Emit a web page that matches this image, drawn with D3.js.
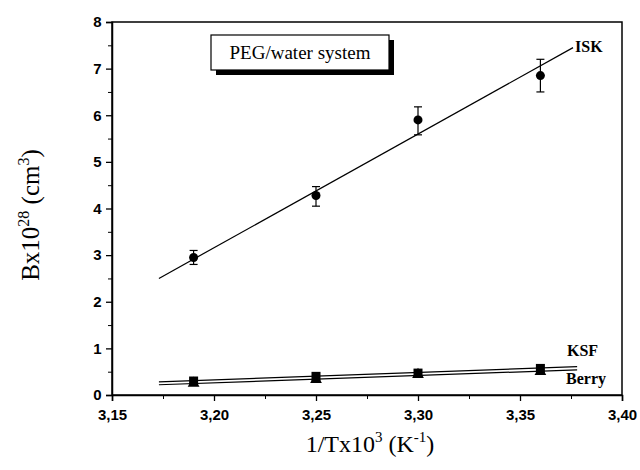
<!DOCTYPE html>
<html><head><meta charset="utf-8">
<script src="https://cdn.jsdelivr.net/npm/d3@7"></script>
<style>body{margin:0;background:#fff}</style>
</head><body>
<svg id="c" width="640" height="470"></svg>
<script>
const xs = [3.19, 3.25, 3.30, 3.36];
const iskY = [2.95, 4.28, 5.90, 6.85];
const iskErrLo = [2.80, 4.05, 5.58, 6.50];
const iskErrHi = [3.10, 4.47, 6.18, 7.20];
const ksfY = [0.30, 0.40, 0.47, 0.57];
const berryY = [0.25, 0.33, 0.44, 0.50];
const iskFitX = [3.173, 3.376];
const iskFitY = [2.50, 7.45];
const ksfFitX = [3.173, 3.378];
const ksfFitY = [0.28, 0.61];
const berryFitX = [3.173, 3.378];
const berryFitY = [0.22, 0.54];
const xTicks = ["3,15","3,20","3,25","3,30","3,35","3,40"];
const yTicks = [0,1,2,3,4,5,6,7,8];

const svg = d3.select("#c");
const L=112, R=622, T=22, B=395;
const x = d3.scaleLinear().domain([3.15,3.40]).range([L,R]);
const y = d3.scaleLinear().domain([0,8]).range([B,T]);
const serif = "'Liberation Serif', 'Times New Roman', serif";
const sans = "'Liberation Sans', Arial, sans-serif";

// frame
svg.append("rect").attr("x",L).attr("y",T).attr("width",R-L).attr("height",B-T)
  .attr("fill","none").attr("stroke","#000").attr("stroke-width",1.5);

// x axis
const xa = svg.append("g").attr("transform",`translate(0,${B})`)
  .call(d3.axisBottom(x).tickValues(d3.range(6).map(i=>3.15+i*0.05)).tickSize(6)
    .tickFormat((d,i)=>xTicks[i]));
xa.select(".domain").attr("stroke-width",1.5);
xa.selectAll("line").attr("stroke-width",1.3);
xa.selectAll("text").attr("font-family",sans).attr("font-weight","bold")
  .attr("font-size",15).attr("dy","1.05em");
svg.append("g").attr("transform",`translate(0,${B})`)
  .call(d3.axisBottom(x).tickValues(d3.range(5).map(i=>3.175+i*0.05)).tickSize(4).tickFormat(""))
  .call(g=>g.select(".domain").remove());

// y axis
const ya = svg.append("g").attr("transform",`translate(${L},0)`)
  .call(d3.axisLeft(y).tickValues(yTicks).tickSize(6));
ya.select(".domain").attr("stroke-width",1.5);
ya.selectAll("line").attr("stroke-width",1.3);
ya.selectAll("text").attr("font-family",sans).attr("font-weight","bold")
  .attr("font-size",15).attr("dx","-0.1em");
svg.append("g").attr("transform",`translate(${L},0)`)
  .call(d3.axisLeft(y).tickValues(d3.range(8).map(i=>i+0.5)).tickSize(4).tickFormat(""))
  .call(g=>g.select(".domain").remove());

// fit lines
const line = d3.line().x(d=>x(d[0])).y(d=>y(d[1]));
svg.append("path").datum(iskFitX.map((v,i)=>[v,iskFitY[i]])).attr("d",line)
  .attr("stroke","#000").attr("stroke-width",1.2).attr("fill","none");
[[ksfFitX,ksfFitY],[berryFitX,berryFitY]].forEach(([fx,fy])=>{
  svg.append("path").datum(fx.map((v,i)=>[v,fy[i]])).attr("d",line)
    .attr("stroke","#000").attr("stroke-width",1.2).attr("fill","none");
});

// ISK error bars
xs.forEach((v,i)=>{
  const cx=x(v);
  svg.append("line").attr("x1",cx).attr("x2",cx).attr("y1",y(iskErrLo[i])).attr("y2",y(iskErrHi[i])).attr("stroke","#000").attr("stroke-width",1.2);
  [iskErrLo[i],iskErrHi[i]].forEach(e=>svg.append("line").attr("x1",cx-4).attr("x2",cx+4).attr("y1",y(e)).attr("y2",y(e)).attr("stroke","#000").attr("stroke-width",1.2));
});
// points
svg.selectAll(".isk").data(xs).enter().append("circle")
  .attr("cx",d=>x(d)).attr("cy",(d,i)=>y(iskY[i])).attr("r",4.5).attr("fill","#000");
svg.selectAll(".ksf").data(xs).enter().append("rect")
  .attr("x",d=>x(d)-4.5).attr("y",(d,i)=>y(ksfY[i])-4.5).attr("width",9).attr("height",9).attr("fill","#000");
const tri = d3.symbol().type(d3.symbolTriangle).size(60);
svg.selectAll(".ber").data(xs).enter().append("path")
  .attr("d",tri).attr("transform",(d,i)=>`translate(${x(d)},${y(berryY[i])})`).attr("fill","#000");

// series labels
const lab=(t,px,py)=>svg.append("text").attr("x",px).attr("y",py).text(t)
  .attr("font-family",serif).attr("font-weight","bold").attr("font-size",16);
lab("ISK",575,52); lab("KSF",567,356); lab("Berry",566,384);

// legend box
svg.append("rect").attr("x",216).attr("y",40).attr("width",178).attr("height",35).attr("fill","#000");
svg.append("rect").attr("x",211).attr("y",35).attr("width",178).attr("height",35).attr("fill","#fff").attr("stroke","#000").attr("stroke-width",1.2);
svg.append("text").attr("x",300).attr("y",59).attr("text-anchor","middle").text("PEG/water system")
  .attr("font-family",serif).attr("font-size",19);

// axis titles
const xt = svg.append("text").attr("x",370).attr("y",452).attr("text-anchor","middle")
  .attr("font-family",serif).attr("font-size",24);
xt.append("tspan").text("1/Tx10");
xt.append("tspan").text("3").attr("font-size",15).attr("dy",-10);
xt.append("tspan").text(" (K").attr("font-size",24).attr("dy",10);
xt.append("tspan").text("-1").attr("font-size",15).attr("dy",-10);
xt.append("tspan").text(")").attr("font-size",24).attr("dy",10);

const yt = svg.append("text").attr("transform","translate(39,215) rotate(-90)").attr("text-anchor","middle")
  .attr("font-family",serif).attr("font-size",25);
yt.append("tspan").text("Bx10");
yt.append("tspan").text("28").attr("font-size",16).attr("dy",-10);
yt.append("tspan").text(" (cm").attr("font-size",25).attr("dy",10);
yt.append("tspan").text("3").attr("font-size",16).attr("dy",-10);
yt.append("tspan").text(")").attr("font-size",25).attr("dy",10);
</script>
</body></html>
